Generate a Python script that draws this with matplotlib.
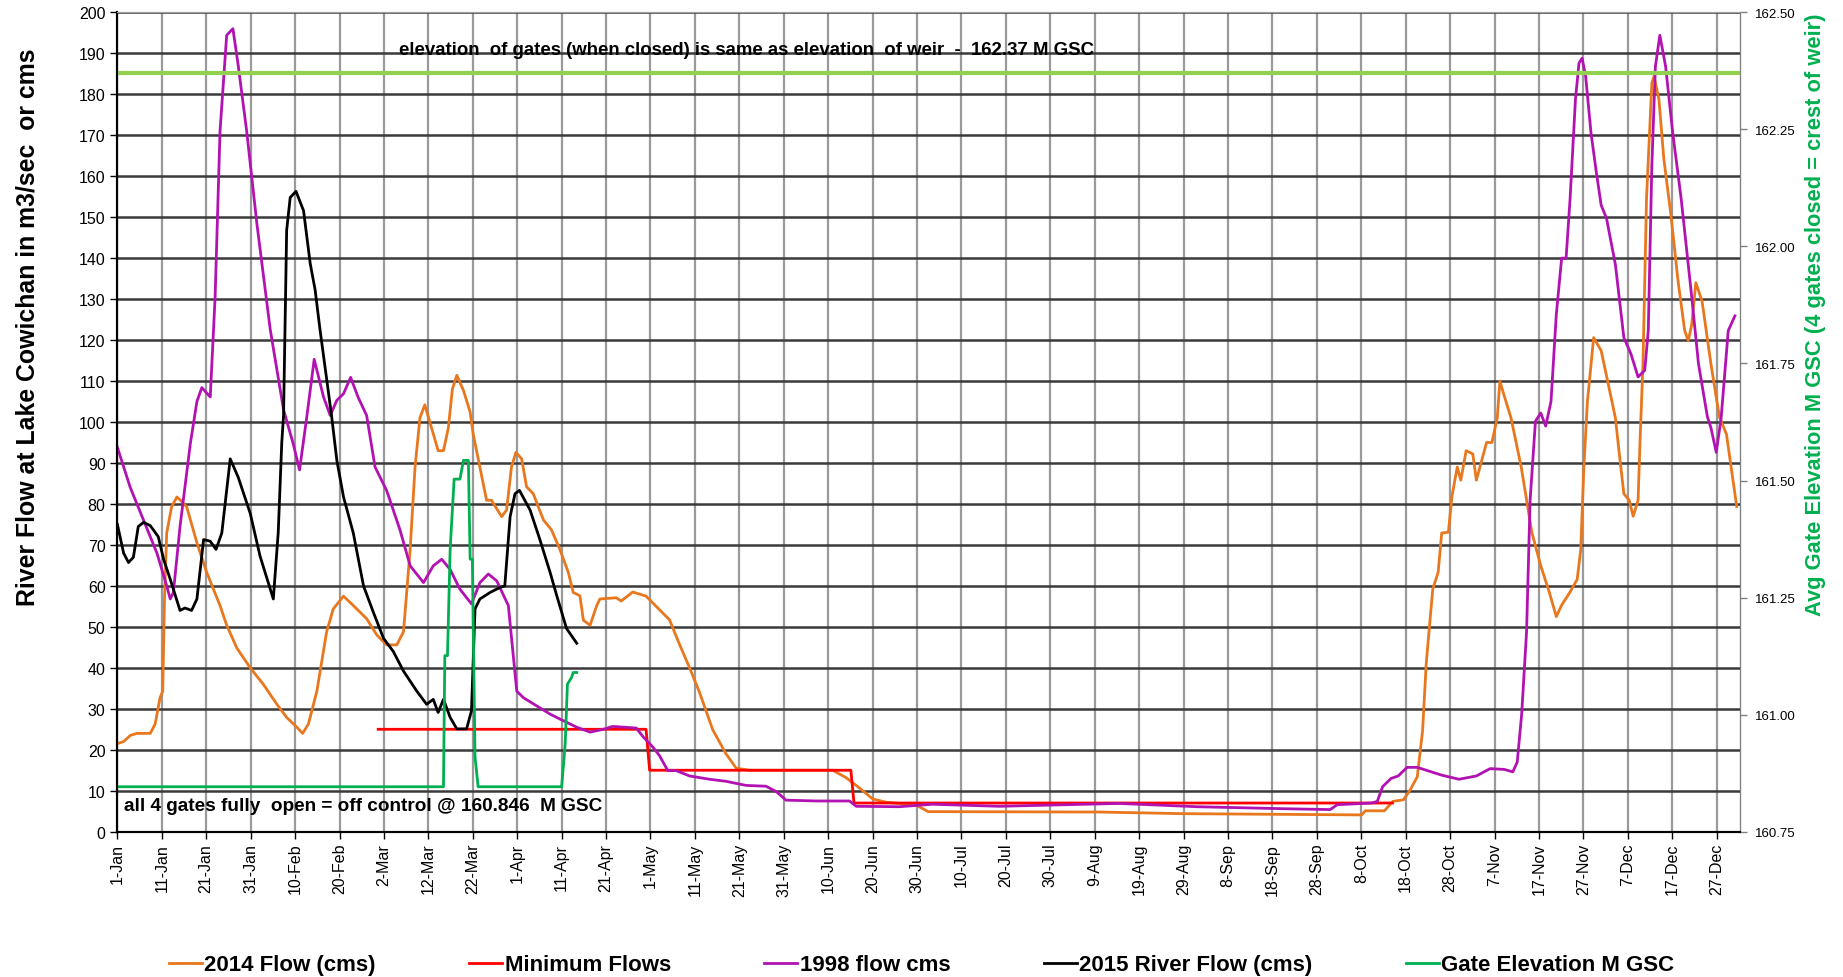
import matplotlib
matplotlib.use("Agg")
import matplotlib.pyplot as plt
from matplotlib import font_manager
from matplotlib.ticker import MultipleLocator, FixedLocator

# x values are days counted from 1-Jan
tick_days = list(range(0, 361, 10))
tick_labels = ["1-Jan", "11-Jan", "21-Jan", "31-Jan", "10-Feb", "20-Feb", "2-Mar", "12-Mar",
               "22-Mar", "1-Apr", "11-Apr", "21-Apr", "1-May", "11-May", "21-May", "31-May",
               "10-Jun", "20-Jun", "30-Jun", "10-Jul", "20-Jul", "30-Jul", "9-Aug", "19-Aug",
               "29-Aug", "8-Sep", "18-Sep", "28-Sep", "8-Oct", "18-Oct", "28-Oct", "7-Nov",
               "17-Nov", "27-Nov", "7-Dec", "17-Dec", "27-Dec"]

flow_2014_days = [0, 1.4, 2.9, 4.4, 7.4, 8.5, 9.6, 10.2, 10.6, 11.1, 12.2, 13.4, 14.1, 15.6, 17.9,
                  20.1, 23.1, 24.6, 26.9, 29.9, 32.9, 35.9, 38.1, 40.4, 41.7, 43, 44.9, 47.1, 48.6,
                  50.9, 53.1, 56.1, 58.4, 60.6, 62.9, 64.4, 65.9, 67, 68.1, 69.2, 70.7, 72.2, 73.4,
                  74.5, 75.4, 76.4, 77.9, 79.4, 80.1, 81.6, 83.1, 84.2, 86.5, 87.6, 88.7, 89.7, 91,
                  92.1, 93.6, 95.9, 97.7, 99.6, 101.5, 102.6, 104.1, 104.9, 106.4, 107.9, 108.6,
                  112.3, 113.4, 116, 119, 122, 124.3, 126.5, 128.8, 131, 134, 137, 139.3, 142.3,
                  161, 164, 167, 170, 173, 179.8, 182.5, 221, 240, 280.1, 280.9, 285.2, 287.1,
                  289.5, 291, 292.6, 293.8, 294.6, 295.3, 296.1, 297.3, 298.1, 299.6, 300.4, 301.6,
                  302.4, 303.6, 305.1, 305.9, 307.1, 308.2, 309.4, 310.6, 311.2, 312, 313.7, 316,
                  318.4, 320.4, 322.3, 323.9, 325.1, 327, 328.6, 329.4, 330.1, 330.9, 332.3, 334,
                  337.2, 338, 339.1, 340.3, 341.2, 342.3, 342.8, 343.4, 344.2, 345.4, 345.9, 347,
                  348.1, 349.7, 351.3, 352.8, 353.6, 354.4, 355.3, 356.7, 358.7, 360.6, 362.2, 364.5]
flow_2014 = [21.5, 22, 23.5, 24, 24, 26.3, 32.7, 34.3, 56.8, 72.9, 79.3, 81.7, 81, 79.3, 70.5,
             63.3, 55.2, 50.4, 44.8, 40, 35.9, 31.1, 27.9, 25.5, 24, 26.3, 34.3, 48.8, 54.4,
             57.5, 55.2, 52, 48, 45.6, 45.6, 48.8, 68.9, 89, 101, 104.2, 98.6, 93, 93,
             98.6, 108, 111.4, 107.7, 102.4, 97, 89, 80.9, 80.9, 76.9, 78.5, 89, 92.6, 91,
             84.2, 82.5, 76.1, 73.7, 68.9, 63.3, 58.4, 57.6, 51.6, 50.4, 55.2, 56.8,
             57.1, 56.3, 58.5, 57.5, 54.2, 51.7, 45.8, 40, 34.1, 24.9, 19, 15.5, 15,
             15, 13.2, 10.7, 8, 7.2, 6.5, 4.9, 4.8, 4.4, 4.1, 5.1, 5.1, 7.4,
             7.8, 10.2, 13.4, 24.7, 40.8, 49.6, 59.3, 63.3, 72.9, 73.1, 81.8, 89,
             85.8, 93, 92.2, 85.8, 90.6, 95, 95, 101, 110, 107, 101, 89,
             73, 64.9, 58.5, 52.5, 55.3, 58.5, 61.6, 68.9, 89, 105, 120.6, 117.4,
             101, 93, 82.5, 80.9, 77, 80.9, 97, 114, 154.5, 182.7, 184.4, 178.7,
             164.2, 150.5, 134.4, 122.3, 119.8, 123.9, 134, 129.5, 114.2, 101.3, 97, 79.4]

min_flow_days = [58.7, 119, 119.8, 165.1, 165.8, 287]
min_flow = [25, 25, 15, 15, 7, 7]

flow_1998_days = [0, 2.9, 5.9, 8.9, 11.1, 11.9, 12.6, 14.1, 16.4, 17.9, 19, 20.9, 22, 23.1, 24.6,
                  26, 27.2, 29.1, 31.4, 34.4, 37.4, 39.6, 41, 42.6, 44.3, 46.4, 47.9, 49.4, 50.9,
                  52.5, 54.2, 56.1, 58, 60.6, 63.6, 65.9, 68.9, 71.1, 73, 74.9, 77.1, 79.7, 81.6,
                  83.5, 85.4, 88, 89.9, 91.4, 94.4, 97.4, 99.6, 103.4, 106.4, 109.4, 111.5, 116.8,
                  118.3, 120.5, 122, 123.9, 125.8, 128.8, 133.3, 137, 141.5, 146, 148.3, 150.5,
                  157.3, 164.8, 166.3, 176, 183.5, 198.5, 225.5, 243, 262.9, 273, 274.6, 282.4,
                  283.6, 284.8, 286.7, 288.3, 290.3, 292.6, 298.1, 302, 305.9, 309, 312.2, 314.1,
                  315.1, 316.1, 317.2, 318, 319.2, 320.4, 321.5, 322.7, 323.9, 325.1, 326.1, 327,
                  328.2, 329, 329.7, 330.5, 331.7, 332.9, 334, 335.2, 337.2, 339.1, 340.7, 342.3,
                  343.8, 344.6, 345.4, 346.2, 347.2, 348.5, 350.1, 352, 354.4, 355.9, 357.9, 358.7,
                  359.9, 361, 362.6, 364.1]
flow_1998 = [93.8, 84, 76, 68, 60, 56.8, 58.4, 74.5, 94.6, 105, 108.4, 106.1, 130.6, 171, 194.4,
             196, 187, 171, 148.4, 122.6, 103, 94.6, 88.3, 101, 115.3, 106.1, 101.6, 105.3, 106.9,
             110.9, 106, 101.6, 89, 83.3, 73.7, 64.9, 60.8, 64.9, 66.5, 64, 59.2, 55.6, 60.8,
             62.9, 61.2, 55.2, 34.3, 32.7, 30.7, 28.7, 27.5, 25.5, 24.3, 25, 25.7, 25.3,
             23.2, 20.7, 18.6, 14.9, 14.9, 13.6, 12.8, 12.3, 11.3, 11.1, 9.8, 7.7,
             7.5, 7.5, 6.2, 6.1, 6.7, 6.2, 6.9, 6.1, 5.6, 5.4, 6.6, 7,
             7.4, 11, 13, 13.6, 15.7, 15.7, 13.8, 12.8, 13.6, 15.4, 15.2, 14.6,
             17, 28.7, 48.8, 80.9, 100.2, 102.2, 99, 105, 126.3, 140, 140, 154.5,
             178.7, 187.6, 188.8, 184.4, 170.6, 161, 152.9, 149.7, 138.4, 120.6, 116.6, 111,
             112.6, 122.3, 162.6, 186.8, 194.4, 186.8, 170.6, 154.5, 130.3, 114.2, 101.3, 98.6,
             92.6, 101, 122.3, 125.9]

flow_2015_days = [0, 1.4, 2.5, 3.6, 4.7, 5.9, 7.4, 9.2, 10.4, 11.9, 14.1, 15.2, 16.7, 17.9, 19.4,
                  20.9, 22.2, 23.5, 25.4, 27.2, 29.9, 32.1, 35.1, 36.2, 37, 37.4, 38.1, 38.9, 40.2,
                  41.9, 43.4, 44.5, 45.6, 47.1, 48.2, 49.4, 50.9, 53.1, 55.4, 57.6, 59.9, 62.1,
                  64.4, 67.4, 69.6, 71.1, 72.2, 73.4, 74.9, 76.4, 78.6, 79.7, 80.5, 81.6, 83.9,
                  86.1, 87.2, 88.4, 89.5, 90.5, 92.9, 95.1, 97.4, 98.9, 101.1, 103.4]
flow_2015 = [75, 68, 65.7, 67, 74.5, 75.5, 74.7, 72, 66.5, 61.6, 54, 54.6, 54, 56.8, 71.3,
             70.9, 68.9, 72.9, 91, 86.5, 77.7, 67.3, 56.8, 73, 95, 101.6, 146.8, 154.8, 156.3,
             151.6, 138.7, 132.3, 122.6, 110.5, 101.6, 90.6, 81.7, 72.9, 60, 53.6, 47.2, 44,
             39.2, 34.3, 31.1, 32.3, 29.1, 32.3, 27.9, 25.1, 25.1, 29.5, 54.4, 56.8, 58.4,
             59.6, 60, 76.9, 82.5, 83.3, 78.5, 71.3, 63.3, 57.6, 49.6, 46]

gate_days = [0, 73.4, 73.7, 74.3, 74.9, 75.8, 77.1, 77.9, 79, 79.4, 79.9, 80.5, 81.2, 100,
             100.8, 101.3, 102.2, 102.6, 103.4]
gate_elev = [160.846, 160.846, 161.126, 161.126, 161.353, 161.503, 161.503, 161.543, 161.543,
             161.332, 161.332, 160.910, 160.846, 160.846, 160.938, 161.065, 161.079, 161.090,
             161.090]

weir_elev = 162.37

ORANGE = "#E8771E"
RED = "#FF0000"
PURPLE = "#B312B3"
GREEN = "#00B050"
LIGHT_GREEN = "#92D050"

names = {f.name for f in font_manager.fontManager.ttflist}
narrow = "Liberation Sans Narrow" if "Liberation Sans Narrow" in names else "Liberation Sans"
plt.rcParams["font.family"] = ["Liberation Sans", "DejaVu Sans"]


def fit(txt, length_px, vertical=False):
    # scale a text's font so that it spans the wanted number of pixels
    r = fig.canvas.get_renderer()
    for _ in range(3):
        bb = txt.get_window_extent(r)
        cur = bb.height if vertical else bb.width
        txt.set_fontsize(txt.get_fontsize() * length_px / cur)


fig = plt.figure(figsize=(18.43, 9.78), dpi=100)
W, H = 1843, 978
ax = fig.add_axes([117.4 / W, 1 - 832.7 / H, (1739.8 - 117.4) / W, (832.7 - 13.3) / H])
ax2 = ax.twinx()

ax.set_xlim(0, 365.2)
ax.set_ylim(0, 200)
ax2.set_ylim(160.75, 162.50)

ax.yaxis.set_major_locator(MultipleLocator(10))
ax.xaxis.set_major_locator(FixedLocator(tick_days))
ax.set_xticklabels(tick_labels, rotation=90, fontsize=11.5)
ax.tick_params(axis="y", labelsize=11.5, length=5, width=1)
ax.tick_params(axis="x", length=5, width=1, pad=3)
ax2.yaxis.set_major_locator(MultipleLocator(0.25))
ax2.yaxis.set_major_formatter(matplotlib.ticker.FormatStrFormatter("%.2f"))
ax2.tick_params(axis="y", labelsize=9.5, length=5, width=1, color="#808080", pad=6)

ax.xaxis.grid(True, color="#9A9A9A", lw=1.6)
ax.yaxis.grid(True, color="#3A3A3A", lw=1.8)
ax.set_axisbelow(True)
ax.spines["top"].set_color("#A0A0A0")
ax2.spines["top"].set_color("#A0A0A0")
ax2.spines["right"].set_color("#808080")
for a in (ax, ax2):
    a.spines["left"].set_linewidth(1.5)
    a.spines["bottom"].set_linewidth(1.5)

lw = 2.0
h1, = ax.plot(flow_2014_days, flow_2014, color=ORANGE, lw=lw, label="2014 Flow (cms)")
h2, = ax.plot(min_flow_days, min_flow, color=RED, lw=lw, label="Minimum Flows")
h3, = ax.plot(flow_1998_days, flow_1998, color=PURPLE, lw=lw, label="1998 flow cms")
h4, = ax.plot(flow_2015_days, flow_2015, color="black", lw=lw, label="2015 River Flow (cms)")
h5, = ax2.plot(gate_days, gate_elev, color=GREEN, lw=lw, label="Gate Elevation M GSC")
ax2.axhline(weir_elev, xmin=0, xmax=0.999, color=LIGHT_GREEN, lw=3)

t1 = ax.text(63.4, 191, "elevation  of gates (when closed) is same as elevation  of weir  -  162.37 M GSC",
             fontsize=12, fontweight="bold", family=narrow, va="center", ha="left")
t2 = ax.text(1.5, 6.3, "all 4 gates fully  open = off control @ 160.846  M GSC",
             fontsize=12, fontweight="bold", family=narrow, va="center", ha="left")

ylab = fig.text(28 / W, 1 - 327 / H, "River Flow at Lake Cowichan in m3/sec  or cms", rotation=90,
                fontsize=15, fontweight="bold", ha="center", va="center")
ylab2 = fig.text(1815 / W, 1 - 315 / H, "Avg Gate Elevation M GSC (4 gates closed = crest of weir)",
                 rotation=90, fontsize=13, fontweight="bold", color=GREEN, ha="center", va="center")

fit(t1, 700)
fit(t2, 478)
fit(ylab, 560, vertical=True)
fit(ylab2, 603, vertical=True)

fig.legend(handles=[h1, h2, h3, h4, h5], loc="center", bbox_to_anchor=(0.5, 1 - 966 / H), ncol=5,
           frameon=False, prop={"weight": "bold", "size": 16}, handlelength=1.5,
           handletextpad=0.1, columnspacing=4.2)

fig.savefig("out.png", dpi=100)
